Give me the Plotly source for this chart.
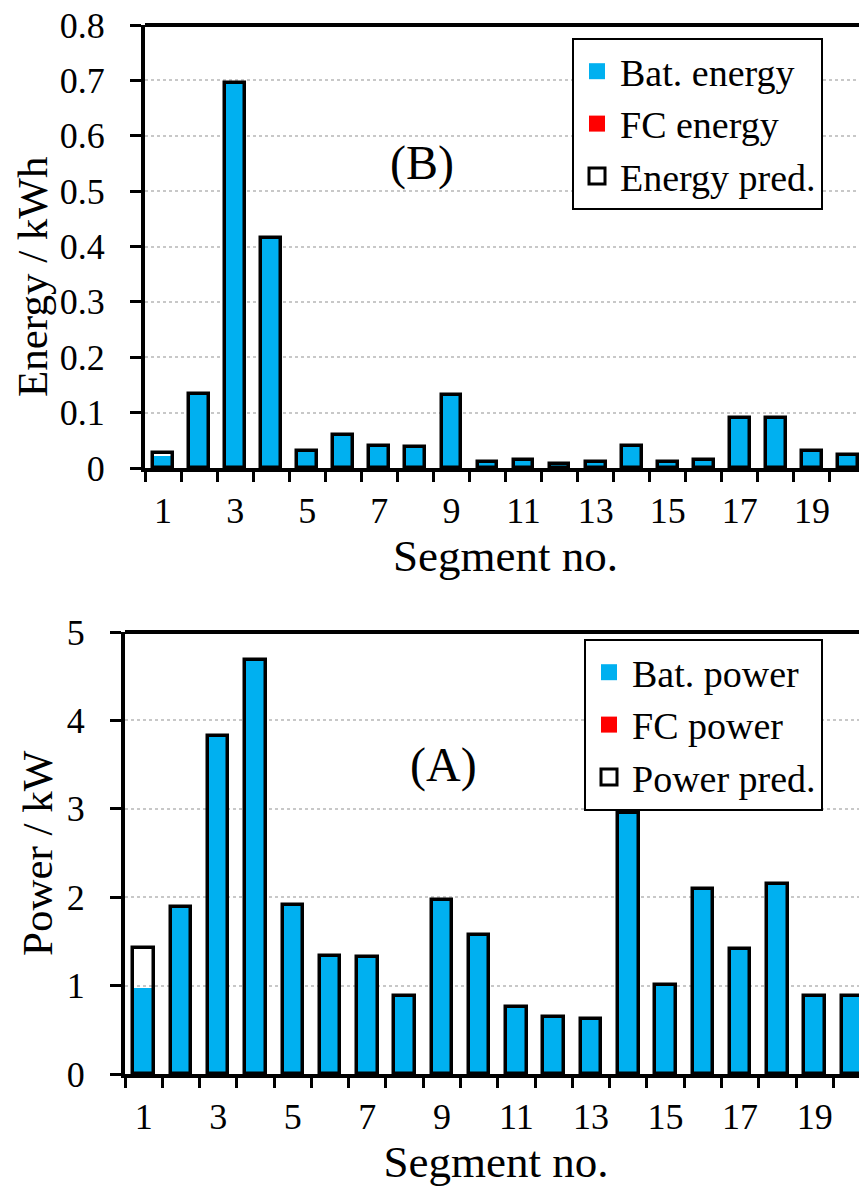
import plotly.graph_objects as go

# ---------------- data ----------------
segments = list(range(1, 21))

bat_energy = [0.021, 0.133, 0.696, 0.416, 0.031, 0.059, 0.039, 0.038, 0.131, 0.011,
              0.014, 0.008, 0.011, 0.039, 0.011, 0.014, 0.091, 0.091, 0.031, 0.023]
fc_energy = [0.0] * 20
energy_pred = [0.028, 0.133, 0.696, 0.416, 0.031, 0.059, 0.039, 0.038, 0.131, 0.011,
               0.014, 0.008, 0.011, 0.039, 0.011, 0.014, 0.091, 0.091, 0.031, 0.023]

bat_power = [0.97, 1.89, 3.82, 4.68, 1.91, 1.33, 1.32, 0.88, 1.97, 1.57,
             0.76, 0.65, 0.62, 2.95, 1.01, 2.09, 1.41, 2.15, 0.88, 0.88]
fc_power = [0.0] * 20
power_pred = [1.43, 1.89, 3.82, 4.68, 1.91, 1.33, 1.32, 0.88, 1.97, 1.57,
              0.76, 0.65, 0.62, 2.95, 1.01, 2.09, 1.41, 2.15, 0.88, 0.88]

tick_labels = [str(v) for v in range(1, 21, 2)]
tick_positions = list(range(1, 21, 2))
boundaries = [i + 0.5 for i in range(0, 21)]

energy_ticks = [0, 0.1, 0.2, 0.3, 0.4, 0.5, 0.6, 0.7, 0.8]
power_ticks = [0, 1, 2, 3, 4, 5]

energy_names = ["Bat. energy", "FC energy", "Energy pred."]
power_names = ["Bat. power", "FC power", "Power pred."]

# ---------------- style ----------------
PAGE_W, PAGE_H = 867, 1190
OFF = 8  # default body margin of the html page
W, H = PAGE_W - OFF, PAGE_H - OFF
FONT = "Liberation Serif"
BLUE = "#00B0F0"
RED = "#FF0000"
BAR_W = 0.55
LINE_W = 3.5
TICK_SIZE = 36


def px(X):
    return (X - OFF) / W


def py(Y):
    return 1 - (Y - OFF) / H


fig = go.Figure()


def add_panel(fig, xa, ya, bat, fc, pred, names, legend):
    # bars (legend handled by the marker entries below so the keys can be larger)
    fig.add_trace(go.Bar(x=segments, y=bat, name=names[0], width=BAR_W,
                         marker=dict(color=BLUE, line=dict(width=0)),
                         xaxis=xa, yaxis=ya, legendgroup=legend + "a",
                         showlegend=False))
    fig.add_trace(go.Bar(x=segments, y=fc, base=bat, name=names[1], width=BAR_W,
                         marker=dict(color=RED, line=dict(width=0)),
                         xaxis=xa, yaxis=ya, legendgroup=legend + "b",
                         showlegend=False))
    fig.add_trace(go.Bar(x=segments, y=pred, name=names[2], width=BAR_W,
                         marker=dict(color="rgba(255,255,255,0)",
                                     line=dict(width=LINE_W, color="black")),
                         xaxis=xa, yaxis=ya, legendgroup=legend + "c",
                         showlegend=False))
    # legend keys
    keys = [
        dict(symbol="square", color=BLUE, line=dict(width=0)),
        dict(symbol="square", color=RED, line=dict(width=0)),
        dict(symbol="square", color="white", line=dict(width=3, color="black")),
    ]
    for name, mk, grp in zip(names, keys, "abc"):
        fig.add_trace(go.Scatter(x=[None], y=[None], mode="markers", name=name,
                                 marker=dict(size=16, **mk), xaxis=xa, yaxis=ya,
                                 legend=legend, legendgroup=legend + grp,
                                 hoverinfo="skip"))


add_panel(fig, "x", "y", bat_energy, fc_energy, energy_pred, energy_names, "legend")
add_panel(fig, "x2", "y2", bat_power, fc_power, power_pred, power_names, "legend2")


def xaxis_cfg(domain, rng, anchor):
    return dict(
        domain=domain, range=rng, tickmode="array", anchor=anchor,
        tickvals=tick_positions, ticktext=tick_labels,
        ticks="outside", ticklen=8, tickcolor="rgba(0,0,0,0)",
        tickfont=dict(family=FONT, size=TICK_SIZE, color="black"),
        ticklabeloverflow="allow",
        minor=dict(tickmode="array", tickvals=boundaries, ticks="outside",
                   ticklen=10, tickwidth=3, tickcolor="black", showgrid=False),
        showline=True, linewidth=4, linecolor="black",
        showgrid=False, zeroline=False, fixedrange=True, automargin=False,
        title=dict(text="Segment no.", font=dict(family=FONT, size=45, color="black"),
                   standoff=0),
    )


def yaxis_cfg(domain, rng, ticks, anchor):
    return dict(
        domain=domain, range=rng, tickmode="array", tickvals=ticks,
        ticks="outside", ticklen=11, tickwidth=3, tickcolor="black",
        tickfont=dict(family=FONT, size=TICK_SIZE, color="black"),
        ticklabelstandoff=18, ticklabeloverflow="allow",
        showline=True, linewidth=4, linecolor="black",
        showgrid=True, gridcolor="#C8C8C8", griddash="dot", gridwidth=2,
        zeroline=False, fixedrange=True, anchor=anchor, automargin=False,
    )


# page-pixel geometry of the two plot areas
top_x = [px(145), px(866)]
top_y = [py(468), py(25)]
bot_x = [px(125), 1.0]
bot_y = [py(1074), py(632)]

bot_cat_w = 37.28
bot_range_end = 0.5 + (PAGE_W - 125) / bot_cat_w

title_font = dict(family=FONT, size=43, color="black")
legend_font = dict(family=FONT, size=38, color="black")

fig.update_layout(
    width=W, height=H,
    margin=dict(l=0, r=0, t=0, b=0, pad=0, autoexpand=False),
    paper_bgcolor="white", plot_bgcolor="white",
    barmode="overlay", bargap=0,
    font=dict(family=FONT, color="black"),
    xaxis=xaxis_cfg(top_x, [0.5, 20.5], "y"),
    yaxis=yaxis_cfg(top_y, [0, 0.8], energy_ticks, "x"),
    xaxis2=xaxis_cfg(bot_x, [0.5, bot_range_end], "y2"),
    yaxis2=yaxis_cfg(bot_y, [0, 5], power_ticks, "x2"),
    legend=dict(x=px(572), y=py(38), xanchor="left", yanchor="top",
                bgcolor="white", bordercolor="black", borderwidth=2,
                font=legend_font, traceorder="normal", itemsizing="trace",
                itemwidth=36),
    legend2=dict(x=px(584), y=py(639), xanchor="left", yanchor="top",
                 bgcolor="white", bordercolor="black", borderwidth=2,
                 font=legend_font, traceorder="normal", itemsizing="trace",
                 itemwidth=36),
    showlegend=True,
    annotations=[
        dict(text="Energy / kWh", x=px(32), y=py(277), xref="paper", yref="paper",
             xanchor="center", yanchor="middle", textangle=-90,
             showarrow=False, font=title_font),
        dict(text="Power / kW", x=px(37), y=py(853), xref="paper", yref="paper",
             xanchor="center", yanchor="middle", textangle=-90,
             showarrow=False, font=title_font),
        dict(text="(B)", x=px(422), y=py(163), xref="paper", yref="paper",
             xanchor="center", yanchor="middle",
             showarrow=False, font=dict(family=FONT, size=48, color="black")),
        dict(text="(A)", x=px(443), y=py(765), xref="paper", yref="paper",
             xanchor="center", yanchor="middle",
             showarrow=False, font=dict(family=FONT, size=48, color="black")),
    ],
    shapes=[
        dict(type="line", xref="paper", yref="paper", x0=top_x[0], x1=top_x[1],
             y0=top_y[1], y1=top_y[1], line=dict(color="black", width=4)),
        dict(type="line", xref="paper", yref="paper", x0=top_x[1], x1=top_x[1],
             y0=top_y[0], y1=top_y[1], line=dict(color="black", width=2)),
        dict(type="line", xref="paper", yref="paper", x0=bot_x[0], x1=bot_x[1],
             y0=bot_y[1], y1=bot_y[1], line=dict(color="black", width=4)),
    ],
)

fig.write_html("out.html")
